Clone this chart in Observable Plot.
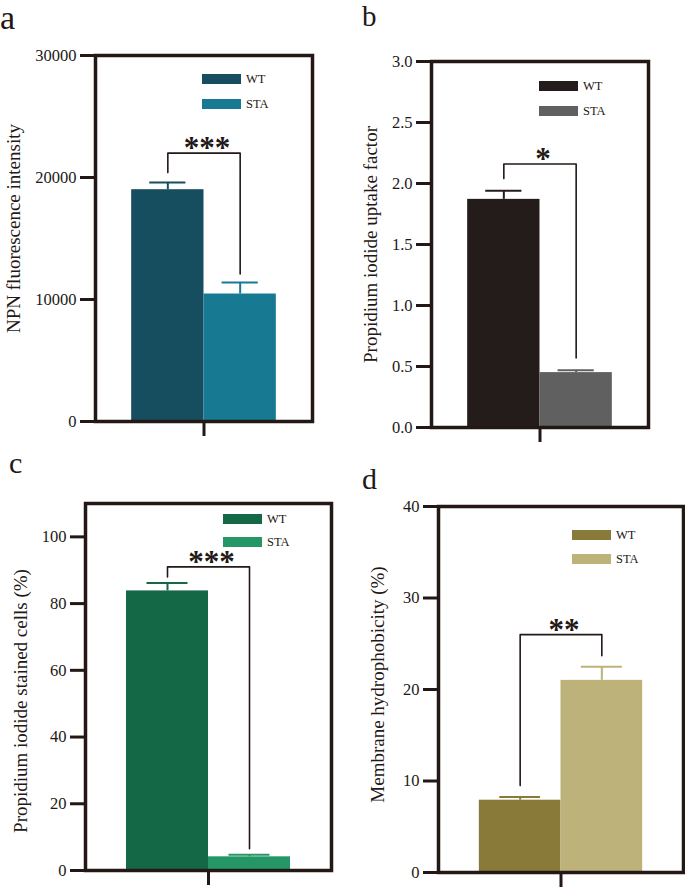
<!DOCTYPE html>
<html><head><meta charset="utf-8">
<script src="https://cdn.jsdelivr.net/npm/d3@7"></script>
<script src="https://cdn.jsdelivr.net/npm/@observablehq/plot@0.6"></script>
<style>
body{margin:0;background:#fff;}
#fig{position:relative;width:685px;height:889px;overflow:hidden;font-family:"Liberation Serif","Times New Roman",serif;color:#231815;background:#fff;}
.panel{position:absolute;}
.letter{position:absolute;line-height:1;font-family:"Liberation Serif",serif;}
.sw{position:absolute;width:39px;height:10px;}
.lt{position:absolute;font-size:12.5px;line-height:10px;height:10px;}
</style></head><body><div id="fig"></div>
<script>
// ---- data ----
const groups = ["WT", "STA"];
const panelLetters = ["a", "b", "c", "d"];

// a: NPN fluorescence intensity
const npnMean = [19000, 10450];
const npnErr = [600, 950];
const npnTicks = [0, 10000, 20000, 30000];
const npnBracket = [22000, 20400, 12100]; // top, left end, right end
const npnSig = "***";

// b: Propidium iodide uptake factor
const piUptakeMean = [1.87, 0.45];
const piUptakeErr = [0.07, 0.02];
const piUptakeTicks = [0, 0.5, 1.0, 1.5, 2.0, 2.5, 3.0];
const piUptakeBracket = [2.16, 2.04, 0.57];
const piUptakeSig = "*";

// c: Propidium iodide stained cells (%)
const piStainMean = [83.8, 4.1];
const piStainErr = [2.4, 0.6];
const piStainTicks = [0, 20, 40, 60, 80, 100];
const piStainBracket = [91, 88, 6.5];
const piStainSig = "***";

// d: Membrane hydrophobicity (%)
const hydroMean = [7.9, 21.0];
const hydroErr = [0.35, 1.5];
const hydroTicks = [0, 10, 20, 30, 40];
const hydroBracket = [26, 9.5, 23.7];
const hydroSig = "**";

const colorsA = ["#164e5f", "#187a92"];
const colorsB = ["#231c1b", "#606060"];
const colorsC = ["#156845", "#259666"];
const colorsD = ["#8a7a3a", "#bdb37a"];
const ink = "#231815";
const serif = "Liberation Serif";

// ---- layout ----
const panels = [
  {mean: npnMean, err: npnErr, ticks: npnTicks, bracket: npnBracket, sig: npnSig, colors: colorsA,
   yDomain: [0, 30000], fmt: d3.format("d"), label: "NPN fluorescence intensity",
   left: 0, top: 0, width: 340, height: 445, mL: 95, mR: 28, mT: 55, mB: 24, labelDx: -82, labelDy: -10,
   letter: {x: 0, y: 1, size: 34}, leg: {x: 202, y: 19, gap: 25}},
  {mean: piUptakeMean, err: piUptakeErr, ticks: piUptakeTicks, bracket: piUptakeBracket, sig: piUptakeSig, colors: colorsB,
   yDomain: [0, 3], fmt: d3.format(".1f"), label: "Propidium iodide uptake factor",
   left: 340, top: 0, width: 345, height: 450, mL: 91, mR: 37, mT: 61, mB: 23, labelDx: -61, labelDy: 0,
   letter: {x: 22, y: 2, size: 29}, leg: {x: 199, y: 20, gap: 25.3}},
  {mean: piStainMean, err: piStainErr, ticks: piStainTicks, bracket: piStainBracket, sig: piStainSig, colors: colorsC,
   yDomain: [0, 110], fmt: d3.format("d"), label: "Propidium iodide stained cells (%)",
   left: 0, top: 450, width: 340, height: 439, mL: 85, mR: 9, mT: 53, mB: 19, labelDx: -65, labelDy: 14,
   letter: {x: 9, y: -2, size: 30}, leg: {x: 223, y: 11, gap: 23.3}},
  {mean: hydroMean, err: hydroErr, ticks: hydroTicks, bracket: hydroBracket, sig: hydroSig, colors: colorsD,
   yDomain: [0, 40], fmt: d3.format("d"), label: "Membrane hydrophobicity (%)",
   left: 340, top: 450, width: 345, height: 439, mL: 98, mR: 2, mT: 56, mB: 17, labelDx: -61, labelDy: -5,
   letter: {x: 22, y: 14, size: 30}, leg: {x: 232, y: 24, gap: 24}}
];

function makePanel(p) {
  const rows = groups.map((g, i) => ({group: g, i, mean: p.mean[i], err: p.err[i], color: p.colors[i]}));
  const br = [
    {x: 0.5, y: p.bracket[1]}, {x: 0.5, y: p.bracket[0]},
    {x: 1.5, y: p.bracket[0]}, {x: 1.5, y: p.bracket[2]}
  ];
  return Plot.plot({
    width: p.width, height: p.height,
    marginLeft: p.mL, marginRight: p.mR, marginTop: p.mT, marginBottom: p.mB,
    x: {domain: [-0.5, 2.5], axis: null},
    y: {domain: p.yDomain, axis: null},
    color: {type: "identity"},
    style: {fontFamily: serif, fontSize: "16px", color: ink, background: "transparent", overflow: "visible"},
    marks: [
      Plot.rect(rows, {x1: d => d.i, x2: d => d.i + 1, y1: 0, y2: "mean", fill: "color"}),
      Plot.ruleX(rows, {x: d => d.i + 0.5, y1: "mean", y2: d => d.mean + d.err, stroke: "color", strokeWidth: 2}),
      Plot.ruleY(rows, {y: d => d.mean + d.err, x1: d => d.i + 0.25, x2: d => d.i + 0.75, stroke: "color", strokeWidth: 2}),
      Plot.line(br, {x: "x", y: "y", stroke: ink, strokeWidth: 1.6}),
      Plot.text([p.sig], {x: 1, y: p.bracket[0], text: d => d, lineAnchor: "middle", fontSize: 31, fontWeight: "bold", fontFamily: serif, dy: -5, dx: 3, fill: ink}),
      Plot.frame({stroke: ink, strokeWidth: 3.5}),
      Plot.axisY({ticks: p.ticks, tickFormat: () => "", tickSize: 15, strokeWidth: 3, label: null, stroke: ink}),
      Plot.text(p.ticks, {y: d => d, frameAnchor: "left", dx: -19, textAnchor: "end", lineAnchor: "middle", text: p.fmt, fontSize: 16.5, fontFamily: serif, fill: ink}),
      Plot.axisX({ticks: [1], tickFormat: () => "", tickSize: 15, strokeWidth: 3, label: null, stroke: ink}),
      Plot.text([p.label], {frameAnchor: "left", rotate: -90, dx: p.labelDx, dy: p.labelDy, text: d => d, fontSize: 19, fontFamily: serif, lineAnchor: "middle", textAnchor: "middle", fill: ink})
    ]
  });
}

const fig = document.getElementById("fig");
panels.forEach((p, k) => {
  const wrap = document.createElement("div");
  wrap.className = "panel";
  wrap.style.left = p.left + "px";
  wrap.style.top = p.top + "px";
  wrap.appendChild(makePanel(p));
  fig.appendChild(wrap);

  const L = document.createElement("div");
  L.className = "letter";
  L.textContent = panelLetters[k];
  L.style.left = (p.left + p.letter.x) + "px";
  L.style.top = (p.top + p.letter.y) + "px";
  L.style.fontSize = p.letter.size + "px";
  fig.appendChild(L);

  groups.forEach((g, i) => {
    const y = p.top + p.mT + p.leg.y + i * p.leg.gap;
    const sw = document.createElement("div");
    sw.className = "sw";
    sw.style.background = p.colors[i];
    sw.style.left = (p.left + p.leg.x) + "px";
    sw.style.top = y + "px";
    fig.appendChild(sw);
    const t = document.createElement("div");
    t.className = "lt";
    t.textContent = g;
    t.style.left = (p.left + p.leg.x + 44) + "px";
    t.style.top = y + "px";
    fig.appendChild(t);
  });
});
</script></body></html>
